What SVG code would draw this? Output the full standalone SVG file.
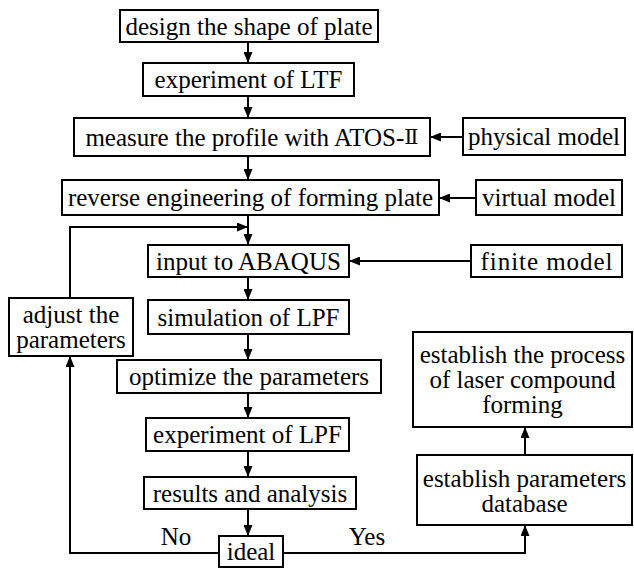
<svg xmlns="http://www.w3.org/2000/svg" width="634" height="568" viewBox="0 0 634 568">
<style>
.b{fill:#fff;stroke:#000;stroke-width:2}
.t{font-family:"Liberation Serif","Times New Roman",serif;font-size:25px;fill:#000;text-anchor:middle;dominant-baseline:central}
.c{fill:none;stroke:#000;stroke-width:2}
.r{font-family:"DejaVu Serif","Liberation Serif",serif;font-size:21px}
</style>
<defs>
<marker id="a" viewBox="0 0 11 9" refX="11" refY="4.5" markerWidth="11" markerHeight="9" markerUnits="userSpaceOnUse" orient="auto"><path d="M0,0L11,4.5L0,9z" fill="#000"/></marker>
</defs>
<rect width="634" height="568" fill="#fff"/>
<g id="connectors">
<path class="c" d="M248,42V63" marker-end="url(#a)"/>
<path class="c" d="M248,96V118" marker-end="url(#a)"/>
<path class="c" d="M248,156V180" marker-end="url(#a)"/>
<path class="c" d="M248,215V245" marker-end="url(#a)"/>
<path class="c" d="M463,137H430" marker-end="url(#a)"/>
<path class="c" d="M476,198H439" marker-end="url(#a)"/>
<path class="c" d="M471,261H349" marker-end="url(#a)"/>
<path class="c" d="M248,277V300" marker-end="url(#a)"/>
<path class="c" d="M248,334V360" marker-end="url(#a)"/>
<path class="c" d="M248,393V418" marker-end="url(#a)"/>
<path class="c" d="M248,451V477" marker-end="url(#a)"/>
<path class="c" d="M248,509V536" marker-end="url(#a)"/>
<path class="c" d="M219,553H70V356" marker-end="url(#a)"/>
<path class="c" d="M70,298V227H248" marker-end="url(#a)"/>
<path class="c" d="M283,553H525V525" marker-end="url(#a)"/>
<path class="c" d="M525,455V427" marker-end="url(#a)"/>
</g>
<g id="n1"><rect class="b" x="120" y="10" width="258" height="32"/><text class="t" x="249" y="26">design the shape of plate</text></g>
<g id="n2"><rect class="b" x="143" y="63" width="211" height="33"/><text class="t" x="248.5" y="79.5">experiment of LTF</text></g>
<g id="n3"><rect class="b" x="74" y="118" width="356" height="38"/><text class="t" x="252" y="137">measure the profile with ATOS-<tspan class="r">Ⅱ</tspan></text></g>
<g id="n4"><rect class="b" x="463" y="118" width="162" height="37"/><text class="t" x="544" y="136.5">physical model</text></g>
<g id="n5"><rect class="b" x="62" y="180" width="377" height="35"/><text class="t" x="250.5" y="197.5">reverse engineering of forming plate</text></g>
<g id="n6"><rect class="b" x="476" y="180" width="146" height="35"/><text class="t" x="549" y="197.5">virtual model</text></g>
<g id="n7"><rect class="b" x="148" y="245" width="201" height="32"/><text class="t" x="248.5" y="261">input to ABAQUS</text></g>
<g id="n8"><rect class="b" x="471" y="245" width="151" height="32"/><text class="t" x="546.5" y="261" textLength="132" lengthAdjust="spacing">finite model</text></g>
<g id="n9"><rect class="b" x="148" y="300" width="201" height="34"/><text class="t" x="248.5" y="317">simulation of LPF</text></g>
<g id="n10"><rect class="b" x="9" y="298" width="124" height="58"/><text class="t" x="71" y="314">adjust the</text><text class="t" x="71" y="339">parameters</text></g>
<g id="n11"><rect class="b" x="117" y="360" width="264" height="33"/><text class="t" x="249" y="376.5">optimize the parameters</text></g>
<g id="n12"><rect class="b" x="146" y="418" width="203" height="33"/><text class="t" x="247.5" y="434.5">experiment of LPF</text></g>
<g id="n13"><rect class="b" x="144" y="477" width="212" height="32"/><text class="t" x="250" y="493">results and analysis</text></g>
<g id="n14"><rect class="b" x="219" y="536" width="64" height="31"/><text class="t" x="251" y="551.5">ideal</text></g>
<g id="n15"><rect class="b" x="413" y="332" width="219" height="95"/><text class="t" x="522.5" y="354.5">establish the process</text><text class="t" x="522.5" y="379.5">of laser compound</text><text class="t" x="522.5" y="404.5">forming</text></g>
<g id="n16"><rect class="b" x="417" y="455" width="215" height="70"/><text class="t" x="524.5" y="478">establish parameters</text><text class="t" x="524.5" y="503">database</text></g>
<g id="labels"><text class="t" x="176" y="536">No</text><text class="t" x="367" y="536">Yes</text></g>
</svg>
